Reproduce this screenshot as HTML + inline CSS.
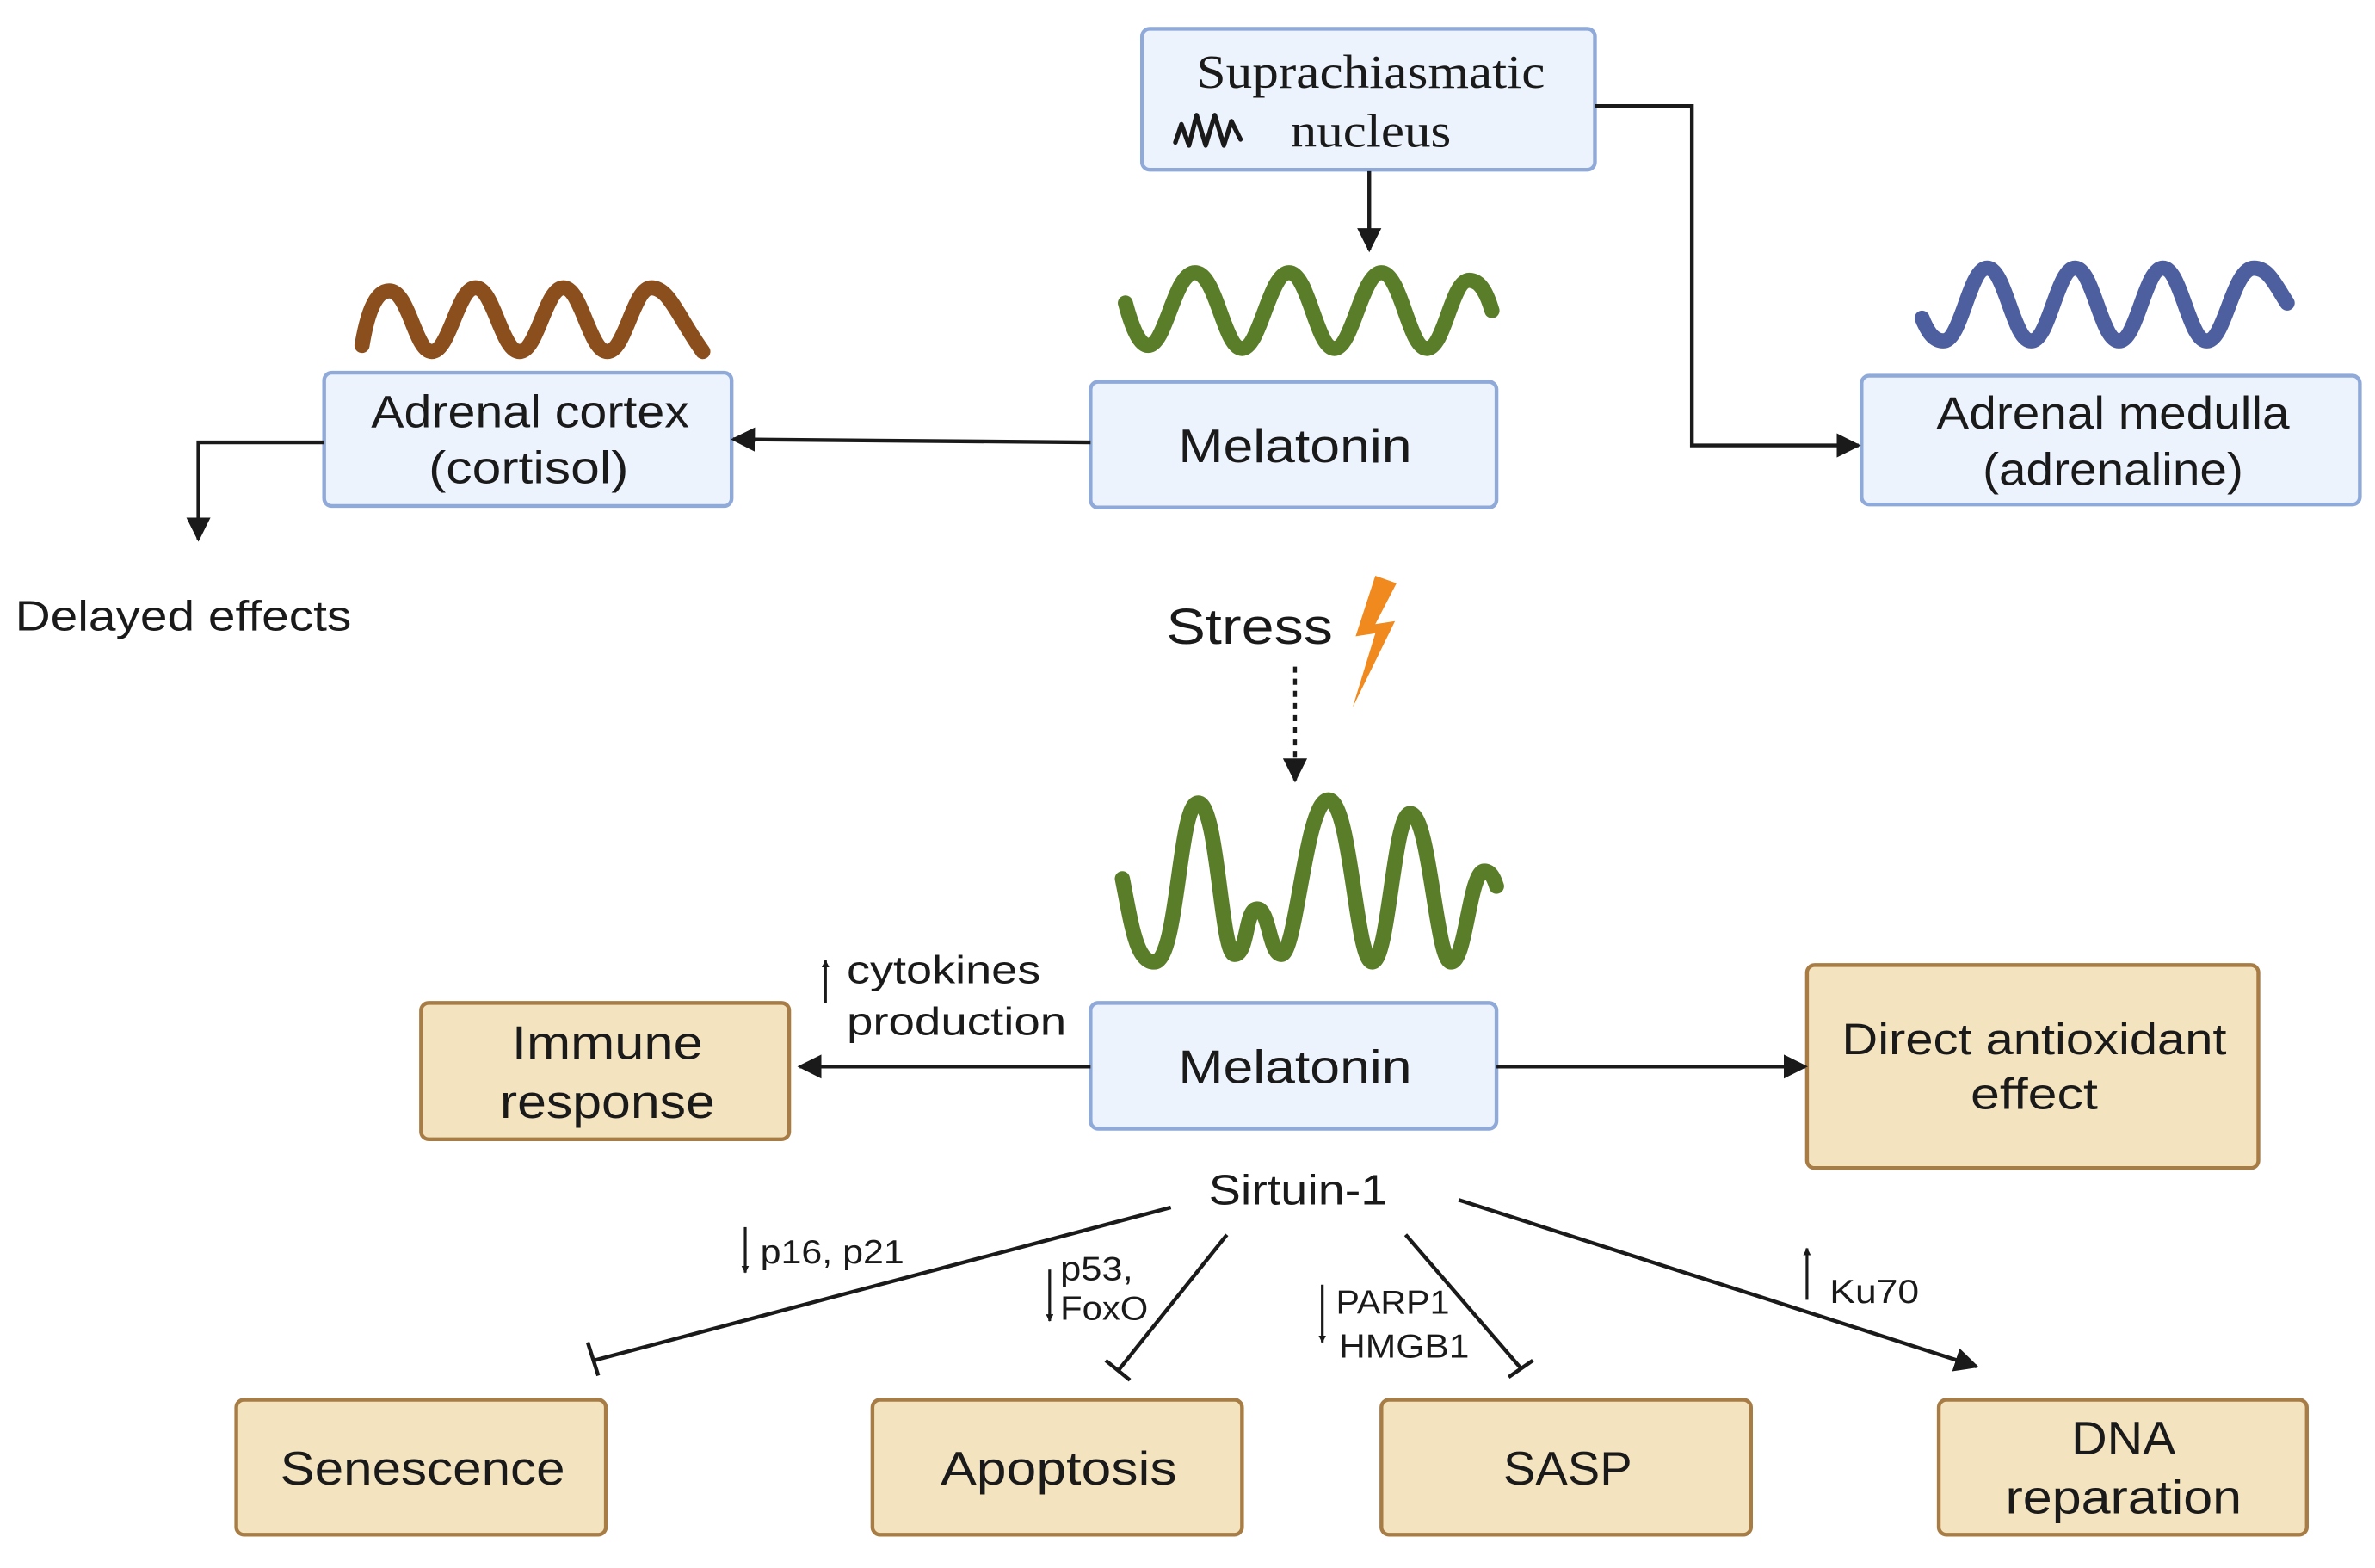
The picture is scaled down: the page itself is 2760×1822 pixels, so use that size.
<!DOCTYPE html>
<html><head><meta charset="utf-8"><style>
html,body{margin:0;padding:0;background:#fff;}
svg{display:block;}
text{font-family:"Liberation Sans",sans-serif;fill:#1a1a1a;}
.s{font-family:"Liberation Serif",serif;}
</style></head><body>
<svg width="2760" height="1822" viewBox="0 0 1568 1035" preserveAspectRatio="none" xmlns="http://www.w3.org/2000/svg">
<defs>
<marker id="ah" viewBox="0 0 10 10" refX="9" refY="5" markerWidth="5" markerHeight="5" orient="auto" markerUnits="userSpaceOnUse"><path d="M0,0 L10,5 L0,10 z" fill="#1a1a1a"/></marker>
<marker id="ab" viewBox="0 0 10 10" refX="9" refY="5" markerWidth="16" markerHeight="16" orient="auto" markerUnits="userSpaceOnUse"><path d="M0,0 L10,5 L0,10 z" fill="#1a1a1a"/></marker>
</defs>
<g fill="#ecf3fc" stroke="#8fa9d9" stroke-width="2.5">
<rect x="754" y="19" width="299" height="93" rx="5"/>
<rect x="720" y="252" width="268" height="83" rx="5"/>
<rect x="214" y="246" width="269" height="88" rx="5"/>
<rect x="1229" y="248" width="329" height="85" rx="5"/>
<rect x="720" y="662" width="268" height="83" rx="5"/>
</g>
<g fill="#f3e3bf" stroke="#a77d45" stroke-width="2.5">
<rect x="278" y="662" width="243" height="90" rx="5"/>
<rect x="1193" y="637" width="298" height="134" rx="5"/>
<rect x="156" y="924" width="244" height="89" rx="5"/>
<rect x="576" y="924" width="244" height="89" rx="5"/>
<rect x="912" y="924" width="244" height="89" rx="5"/>
<rect x="1280" y="924" width="243" height="89" rx="5"/>
</g>
<g fill="none" stroke-linecap="round" stroke-linejoin="round">
<path d="M776,94 L780,82 L785,96 L790,76 L796,96 L802,76 L808,96 L813,80 L819,92" stroke="#1a1a1a" stroke-width="3"/>
<path d="M743,200 C747,215 752,228 758,228 C770,228 775,180 789,180 C803,180 808,230 820,230 C832,230 838,180 851,180 C864,180 869,230 881,230 C893,230 899,180 912,180 C925,180 930,230 942,230 C954,230 958,185 970,185 C978,185 982,195 985,205" stroke="#5a7d2a" stroke-width="10"/>
<path d="M239,228 C242,210 247,192 257,192 C270,192 274,232 285,232 C297,232 302,190 314,190 C326,190 331,232 343,232 C355,232 360,190 372,190 C384,190 389,232 401,232 C413,232 418,190 430,190 C442,190 448,210 464,232" stroke="#8b4f1e" stroke-width="10"/>
<path d="M1269,210 C1273,220 1277,225 1283,225 C1295,225 1300,177 1312,177 C1324,177 1329,225 1341,225 C1353,225 1358,177 1370,177 C1382,177 1387,225 1399,225 C1411,225 1416,177 1428,177 C1440,177 1445,225 1457,225 C1469,225 1474,177 1488,177 C1498,177 1502,188 1510,200" stroke="#4e5fa0" stroke-width="10"/>
<path d="M741,580 C747,610 750,635 762,635 C778,635 778,530 791,530 C804,530 806,630 815,630 C824,630 822,600 830,600 C838,600 838,630 846,630 C856,630 862,528 877,528 C892,528 895,635 906,635 C917,635 920,537 931,537 C944,537 948,635 958,635 C968,635 970,575 980,575 C985,575 987,582 988,585" stroke="#5a7d2a" stroke-width="10"/>
</g>
<path d="M908,380 L895,420 L908,418 L893,467 L921,410 L908,412 L922,385 z" fill="#f0891e"/>
<g stroke="#1a1a1a" stroke-width="2.5" fill="none">
<path d="M904,113 V165" marker-end="url(#ab)"/>
<path d="M1053,70 H1117 V294 H1227" marker-end="url(#ab)"/>
<path d="M720,292 L484,290" marker-end="url(#ab)"/>
<path d="M214,292 H131 V356" marker-end="url(#ab)"/>
<path d="M855,440 V515" stroke-dasharray="4,4" marker-end="url(#ab)"/>
<path d="M720,704 H528" marker-end="url(#ab)"/>
<path d="M988,704 H1192" marker-end="url(#ab)"/>
<path d="M773,797 L392,898 M388,886 L395,908"/>
<path d="M810,815 L738,905 M730,898 L746,911"/>
<path d="M928,815 L1004,903 M996,909 L1012,898"/>
<path d="M963,792 L1305,902" marker-end="url(#ab)"/>
<path d="M545,662 V634" stroke-width="1.8" marker-end="url(#ah)"/>
<path d="M492,810 V840" stroke-width="1.8" marker-end="url(#ah)"/>
<path d="M693,838 V872" stroke-width="1.8" marker-end="url(#ah)"/>
<path d="M873,848 V886" stroke-width="1.8" marker-end="url(#ah)"/>
<path d="M1193,858 V824" stroke-width="1.8" marker-end="url(#ah)"/>
</g>
<g text-anchor="middle" lengthAdjust="spacingAndGlyphs">
<text class="s" x="905" y="58" font-size="31" textLength="230" lengthAdjust="spacingAndGlyphs">Suprachiasmatic</text>
<text class="s" x="905" y="97" font-size="31" textLength="106" lengthAdjust="spacingAndGlyphs">nucleus</text>
<text x="855" y="305" font-size="31" textLength="154" lengthAdjust="spacingAndGlyphs">Melatonin</text>
<text x="350" y="282" font-size="30" textLength="210" lengthAdjust="spacingAndGlyphs">Adrenal cortex</text>
<text x="349" y="319" font-size="30" textLength="132" lengthAdjust="spacingAndGlyphs">(cortisol)</text>
<text x="1395" y="283" font-size="30" textLength="233" lengthAdjust="spacingAndGlyphs">Adrenal medulla</text>
<text x="1395" y="320" font-size="30" textLength="172" lengthAdjust="spacingAndGlyphs">(adrenaline)</text>
<text x="855" y="715" font-size="31" textLength="154" lengthAdjust="spacingAndGlyphs">Melatonin</text>
<text x="401" y="699" font-size="31" textLength="126" lengthAdjust="spacingAndGlyphs">Immune</text>
<text x="401" y="738" font-size="31" textLength="142" lengthAdjust="spacingAndGlyphs">response</text>
<text x="1343" y="696" font-size="29" textLength="254" lengthAdjust="spacingAndGlyphs">Direct antioxidant</text>
<text x="1343" y="732" font-size="29" textLength="84" lengthAdjust="spacingAndGlyphs">effect</text>
<text x="857" y="795" font-size="28" textLength="118" lengthAdjust="spacingAndGlyphs">Sirtuin-1</text>
<text x="279" y="980" font-size="31" textLength="188" lengthAdjust="spacingAndGlyphs">Senescence</text>
<text x="699" y="980" font-size="31" textLength="156" lengthAdjust="spacingAndGlyphs">Apoptosis</text>
<text x="1035" y="980" font-size="31" textLength="85" lengthAdjust="spacingAndGlyphs">SASP</text>
<text x="1402" y="960" font-size="31" textLength="69" lengthAdjust="spacingAndGlyphs">DNA</text>
<text x="1402" y="999" font-size="31" textLength="156" lengthAdjust="spacingAndGlyphs">reparation</text>
</g>
<text x="10" y="416" font-size="28" textLength="222" lengthAdjust="spacingAndGlyphs">Delayed effects</text>
<text x="770" y="425" font-size="33" textLength="110" lengthAdjust="spacingAndGlyphs">Stress</text>
<text x="559" y="649" font-size="26" textLength="128" lengthAdjust="spacingAndGlyphs">cytokines</text>
<text x="559" y="683" font-size="26" textLength="145" lengthAdjust="spacingAndGlyphs">production</text>
<text x="502" y="834" font-size="22" textLength="95" lengthAdjust="spacingAndGlyphs">p16, p21</text>
<text x="700" y="845" font-size="22" textLength="48" lengthAdjust="spacingAndGlyphs">p53,</text>
<text x="700" y="871" font-size="22" textLength="58" lengthAdjust="spacingAndGlyphs">FoxO</text>
<text x="882" y="867" font-size="22" textLength="75" lengthAdjust="spacingAndGlyphs">PARP1</text>
<text x="884" y="896" font-size="22" textLength="86" lengthAdjust="spacingAndGlyphs">HMGB1</text>
<text x="1208" y="860" font-size="22" textLength="59" lengthAdjust="spacingAndGlyphs">Ku70</text>
</svg>
</body></html>
